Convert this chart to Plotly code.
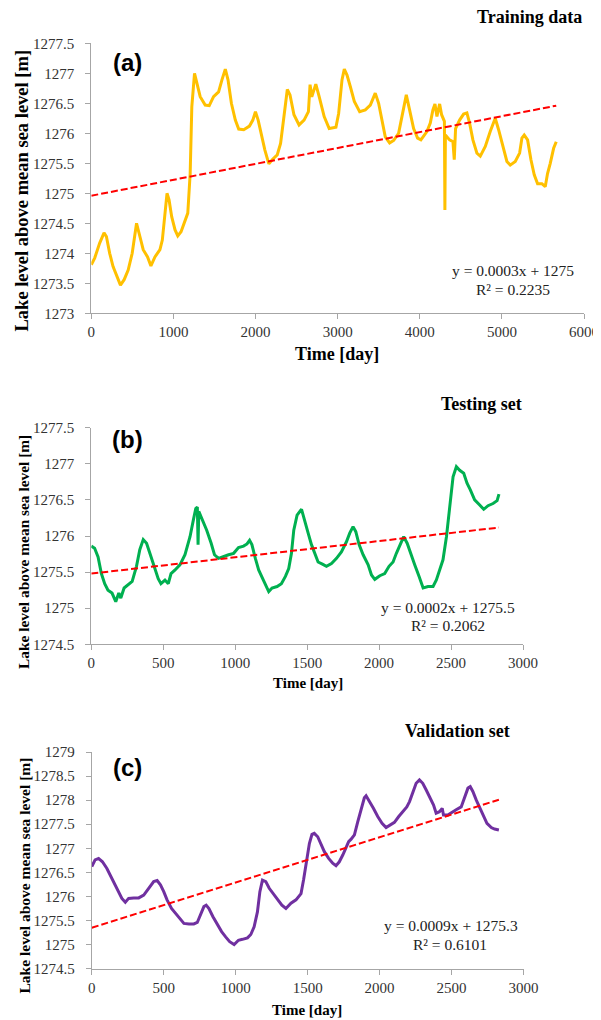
import plotly.graph_objects as go

# ---------------- data ----------------
train_day = [0,41,102,155,184,224,265,306,355,400,449,498,551,592,632,685,726,775,836,865,
             898,922,947,979,1020,1053,1093,1134,1175,1204,1224,1257,1285,1326,1387,1436,1489,1550,1591,1632,
             1665,1706,1754,1795,1856,1926,1967,1999,2032,2073,2114,2162,2203,2264,2305,2346,2387,2420,2468,2530,
             2591,2644,2664,2685,2734,2775,2836,2897,2979,3012,3053,3081,3114,3154,3203,3268,3337,3398,3458,3499,
             3540,3580,3633,3682,3742,3783,3836,3876,3925,3974,4014,4087,4128,4160,4185,4209,4242,4266,4300,4306,
             4312,4363,4404,4420,4436,4485,4534,4574,4607,4647,4696,4737,4798,4858,4919,4960,5001,5061,5102,5163,
             5216,5244,5272,5313,5354,5394,5435,5487,5528,5556,5589,5630,5662]
train_level = [1273.81,1273.92,1274.17,1274.34,1274.28,1274.0,1273.78,1273.64,1273.47,1273.56,
               1273.72,1274.0,1274.5,1274.28,1274.06,1273.94,1273.79,1273.94,1274.06,1274.22,
               1274.72,1275.0,1274.89,1274.61,1274.39,1274.29,1274.36,1274.53,1274.67,1275.33,
               1276.44,1277.0,1276.83,1276.61,1276.47,1276.46,1276.61,1276.69,1276.89,1277.07,
               1276.89,1276.5,1276.22,1276.07,1276.06,1276.12,1276.22,1276.36,1276.22,1275.94,
               1275.72,1275.49,1275.56,1275.64,1275.83,1276.28,1276.73,1276.64,1276.31,1276.14,
               1276.22,1276.36,1276.81,1276.61,1276.82,1276.61,1276.28,1276.08,1276.1,1276.33,
               1276.89,1277.07,1276.97,1276.78,1276.53,1276.36,1276.39,1276.47,1276.67,1276.5,
               1276.22,1275.94,1275.84,1275.88,1276.0,1276.28,1276.64,1276.39,1276.08,1275.92,
               1275.89,1276.03,1276.17,1276.39,1276.49,1276.28,1276.49,1276.31,1276.2,1274.72,
               1275.97,1275.89,1275.86,1275.56,1276.08,1276.22,1276.32,1276.34,1276.17,1275.89,
               1275.67,1275.62,1275.78,1276.03,1276.25,1276.06,1275.83,1275.53,1275.47,1275.53,
               1275.67,1275.92,1275.97,1275.89,1275.56,1275.31,1275.16,1275.16,1275.11,1275.33,
               1275.5,1275.75,1275.86]

test_day = [0,23,47,70,93,116,144,170,191,205,228,256,284,314,337,361,384,407,437,465,
            484,512,535,554,582,616,651,686,709,726,737,742,747,779,802,833,856,884,919,954,
            989,1023,1058,1082,1100,1116,1140,1163,1191,1209,1233,1256,1291,1321,1349,1372,1391,1407,1430,1461,
            1484,1507,1530,1553,1576,1606,1634,1669,1704,1738,1773,1796,1819,1838,1861,1889,1924,1947,1970,2005,
            2039,2069,2097,2120,2144,2171,2195,2218,2248,2278,2306,2340,2375,2398,2421,2444,2468,2491,2514,2537,
            2560,2588,2611,2634,2664,2699,2727,2757,2792,2820,2833]
test_level = [1275.86,1275.83,1275.71,1275.48,1275.34,1275.25,1275.21,1275.09,1275.21,1275.14,
              1275.28,1275.32,1275.37,1275.58,1275.81,1275.95,1275.9,1275.76,1275.58,1275.41,
              1275.34,1275.39,1275.34,1275.48,1275.53,1275.6,1275.74,1275.99,1276.22,1276.38,
              1276.4,1275.88,1276.34,1276.2,1276.08,1275.9,1275.74,1275.69,1275.72,1275.74,
              1275.76,1275.84,1275.86,1275.89,1275.94,1275.88,1275.69,1275.53,1275.41,1275.34,
              1275.23,1275.28,1275.3,1275.34,1275.44,1275.55,1275.76,1276.08,1276.29,1276.37,
              1276.22,1276.04,1275.88,1275.76,1275.64,1275.61,1275.58,1275.62,1275.69,1275.78,
              1275.92,1276.04,1276.13,1276.06,1275.88,1275.74,1275.6,1275.46,1275.4,1275.45,
              1275.48,1275.58,1275.64,1275.76,1275.88,1275.99,1275.9,1275.76,1275.6,1275.44,
              1275.28,1275.3,1275.3,1275.39,1275.53,1275.67,1275.99,1276.41,1276.82,1276.96,
              1276.91,1276.87,1276.73,1276.64,1276.5,1276.43,1276.37,1276.42,1276.45,1276.49,
              1276.58]

valid_day = [0,23,47,74,105,135,163,186,209,233,256,291,326,361,395,430,454,477,500,523,
             554,582,609,640,675,709,733,756,779,795,814,842,872,902,930,958,989,1019,1047,1082,
             1105,1128,1151,1168,1186,1209,1233,1261,1291,1321,1349,1384,1419,1454,1472,1493,1512,1530,1546,1570,
             1593,1616,1646,1674,1697,1720,1744,1767,1785,1802,1825,1848,1871,1894,1906,1929,1957,1987,2017,2045,
             2073,2103,2133,2161,2189,2208,2231,2254,2277,2300,2324,2351,2375,2393,2416,2435,2444,2474,2505,2532,
             2567,2590,2614,2630,2648,2672,2699,2723,2746,2776,2799,2829]
valid_level = [1276.62,1276.76,1276.79,1276.72,1276.58,1276.41,1276.24,1276.1,1275.96,1275.88,
               1275.96,1275.97,1275.97,1276.03,1276.17,1276.31,1276.33,1276.24,1276.1,1275.93,
               1275.75,1275.65,1275.54,1275.44,1275.43,1275.43,1275.46,1275.61,1275.79,1275.82,
               1275.75,1275.58,1275.41,1275.27,1275.16,1275.06,1275.0,1275.09,1275.11,1275.14,
               1275.21,1275.37,1275.68,1276.1,1276.34,1276.31,1276.17,1276.06,1275.93,1275.82,
               1275.75,1275.86,1275.93,1276.06,1276.35,1276.79,1277.1,1277.29,1277.31,1277.24,
               1277.07,1276.93,1276.79,1276.69,1276.64,1276.72,1276.86,1277.0,1277.14,1277.19,
               1277.28,1277.55,1277.83,1278.05,1278.09,1277.98,1277.83,1277.66,1277.52,1277.43,
               1277.48,1277.54,1277.66,1277.76,1277.86,1277.97,1278.18,1278.35,1278.42,1278.35,
               1278.21,1278.04,1277.9,1277.73,1277.76,1277.83,1277.69,1277.69,1277.74,1277.8,
               1277.86,1278.04,1278.25,1278.28,1278.18,1278.0,1277.83,1277.66,1277.52,1277.43,
               1277.4,1277.38]

# linear trend lines (slope, intercept) as drawn in the reference
train_trend = (0.000265, 1274.96)
test_trend = (0.000225, 1275.48)
valid_trend = (0.00094, 1275.35)

panel_titles = ["Training data", "Testing set", "Validation set"]
panel_letters = ["(a)", "(b)", "(c)"]
equations = ["y = 0.0003x + 1275", "y = 0.0002x + 1275.5", "y = 0.0009x + 1275.3"]
r2_texts = ["R² = 0.2235", "R² = 0.2062", "R² = 0.6101"]

x_ticks_a = [0, 1000, 2000, 3000, 4000, 5000, 6000]
x_ticks_bc = [0, 500, 1000, 1500, 2000, 2500, 3000]
y_ticks_a = [1273, 1273.5, 1274, 1274.5, 1275, 1275.5, 1276, 1276.5, 1277, 1277.5]
y_ticks_b = [1274.5, 1275, 1275.5, 1276, 1276.5, 1277, 1277.5]
y_ticks_c = [1274.5, 1275, 1275.5, 1276, 1276.5, 1277, 1277.5, 1278, 1278.5, 1279]

# ---------------- figure ----------------
# the page body has an 8px default margin, so the figure is drawn 8px in
OFF = 8
W, H = 601 - OFF, 1020 - OFF
def px(x):
    return (x - OFF) / W
def py(y):
    return 1 - (y - OFF) / H

SERIF = "Liberation Serif"
SANS = "Liberation Sans"
AXC = "#A6A6A6"

def fmt(v):
    return ("%g" % v)

fig = go.Figure()

series = [
    (train_day, train_level, train_trend, "#FFC000", "x", "y"),
    (test_day, test_level, test_trend, "#00B050", "x2", "y2"),
    (valid_day, valid_level, valid_trend, "#7030A0", "x3", "y3"),
]
for days, levels, (m, b), col, xa, ya in series:
    fig.add_trace(go.Scatter(x=days, y=levels, mode="lines", xaxis=xa, yaxis=ya,
                             line=dict(color=col, width=3), showlegend=False, hoverinfo="skip"))
    tx = [days[0], days[-1]]
    fig.add_trace(go.Scatter(x=tx, y=[b + m * t for t in tx], mode="lines", xaxis=xa, yaxis=ya,
                             line=dict(color="#FF0000", width=2, dash="7px,3px"),
                             showlegend=False, hoverinfo="skip"))

def ax(domain, rng, ticks, anchor, standoff):
    return dict(domain=domain, range=rng, tickvals=ticks, ticktext=[fmt(t) for t in ticks],
                showline=True, linecolor=AXC, linewidth=1, ticks="outside", ticklen=5,
                tickcolor=AXC, showgrid=False, zeroline=False, anchor=anchor,
                automargin=False, ticklabelstandoff=standoff,
                tickfont=dict(family=SERIF, size=15, color="#333333"))

fig.update_layout(
    width=W, height=H, margin=dict(l=0, r=0, t=0, b=0),
    paper_bgcolor="white", plot_bgcolor="white",
    xaxis=ax([px(91.3), px(584)], [0, 6000], x_ticks_a, "y", 0),
    yaxis=ax([py(313.3), py(43.3)], [1273, 1277.5], y_ticks_a, "x", 8),
    xaxis2=ax([px(91.3), px(523)], [0, 3000], x_ticks_bc, "y2", 0),
    yaxis2=ax([py(644.3), py(427.7)], [1274.5, 1277.5], y_ticks_b, "x2", 8),
    xaxis3=ax([px(91.8), px(523.5)], [0, 3000], x_ticks_bc, "y3", 0),
    yaxis3=ax([py(968.7), py(752)], [1274.5, 1279], y_ticks_c, "x3", 8),
)

ann = []
def add(text, x, y, size, family=SERIF, bold=False, angle=0, color="#000000"):
    ann.append(dict(text=text, x=px(x), y=py(y), xref="paper", yref="paper",
                    xanchor="center", yanchor="middle", showarrow=False, textangle=angle,
                    font=dict(family=family, size=size, color=color,
                              weight="bold" if bold else "normal")))

ylab = "Lake level above mean sea level [m]"
# panel (a)
add(panel_titles[0], 529, 17, 18, bold=True)
add(panel_letters[0], 127, 62, 24, family=SANS, bold=True)
add(ylab, 21, 190.5, 18.5, bold=True, angle=-90)
add("Time [day]", 337, 354, 18, bold=True)
add(equations[0], 513, 271, 15.5, color="#222222")
add(r2_texts[0], 513, 289.5, 15.5, color="#222222")
# panel (b)
add(panel_titles[1], 481, 404, 18, bold=True)
add(panel_letters[1], 127, 439, 24, family=SANS, bold=True)
add(ylab, 23, 552, 15.4, bold=True, angle=-90)
add("Time [day]", 307.5, 683, 15, bold=True)
add(equations[1], 448.3, 607.7, 15.5, color="#222222")
add(r2_texts[1], 448.3, 625, 15.5, color="#222222")
# panel (c)
add(panel_titles[2], 457.5, 731, 18, bold=True)
add(panel_letters[2], 127, 767, 24, family=SANS, bold=True)
add(ylab, 23.5, 876, 15.5, bold=True, angle=-90)
add("Time [day]", 307, 1010, 15, bold=True)
add(equations[2], 450.8, 925, 15.5, color="#222222")
add(r2_texts[2], 450.3, 944, 15.5, color="#222222")

fig.update_layout(annotations=ann)
fig.write_html("out.html")
